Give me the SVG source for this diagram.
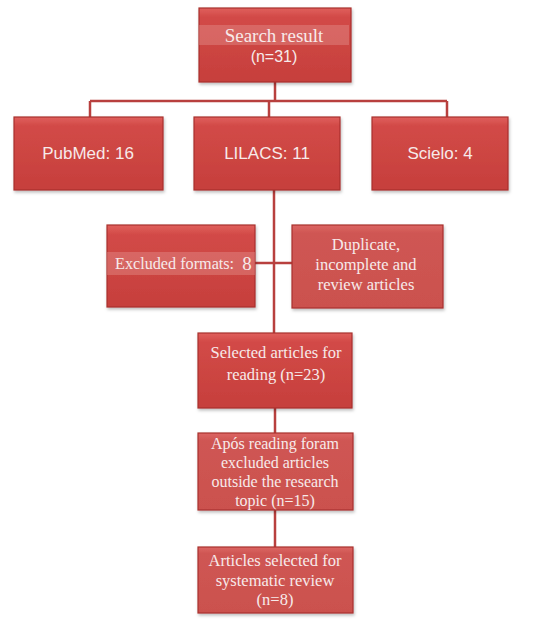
<svg xmlns="http://www.w3.org/2000/svg" width="540" height="626" viewBox="0 0 540 626">
<defs>
<linearGradient id="g" x1="0" y1="0" x2="0" y2="1">
<stop offset="0" stop-color="#e0605d"/>
<stop offset="0.12" stop-color="#d24a47"/>
<stop offset="1" stop-color="#c63f3c"/>
</linearGradient>
<linearGradient id="g2" x1="0" y1="0" x2="0" y2="1">
<stop offset="0" stop-color="#dc6663"/>
<stop offset="0.1" stop-color="#cf5653"/>
<stop offset="1" stop-color="#cb514e"/>
</linearGradient>
<filter id="sh" x="-5%" y="-5%" width="112%" height="120%">
<feDropShadow dx="1" dy="2" stdDeviation="1.5" flood-color="#000" flood-opacity="0.25"/>
</filter>
</defs>
<style>
.box{fill:url(#g);stroke:#a8302e;stroke-width:1.2;filter:url(#sh)}
.box2{fill:url(#g2);stroke:#a8302e;stroke-width:1.2;filter:url(#sh)}
.band{fill:#e7a09e;opacity:0.35}
.serif{font-family:"Liberation Serif","Times New Roman",serif;font-size:16.5px;fill:#f7eaea;text-anchor:middle}
.sans{font-family:"Liberation Sans",Arial,sans-serif;font-size:17px;fill:#f7eaea;text-anchor:middle}
.big{font-size:19px}
.mid{font-size:16.2px}
.sm{font-size:16px}
.start{text-anchor:start}
.conn{stroke:#b8403e;stroke-width:2.5;fill:none}
</style>
<rect width="540" height="626" fill="#ffffff"/>
<g id="connectors">
<path class="conn" d="M275 82 V100 M90 101 H447 M90 101 V117 M269 101 V117 M447 101 V117"/>
<path class="conn" d="M274 190 V333 M255 263 H292"/>
<path class="conn" d="M275 408 V433 M275 510 V547"/>
</g>
<g id="search">
<rect class="box" x="199" y="8" width="152" height="74"/>
<rect class="band" x="199" y="25" width="150" height="20"/>
<text class="serif big" x="274" y="42">Search result</text>
<text class="sans sm" x="274" y="62">(n=31)</text>
</g>
<g id="pubmed">
<rect class="box" x="14" y="117" width="149" height="73"/>
<text class="sans" x="88" y="159">PubMed: 16</text>
</g>
<g id="lilacs">
<rect class="box" x="194" y="117" width="146" height="73"/>
<text class="sans" x="267" y="159">LILACS: 11</text>
</g>
<g id="scielo">
<rect class="box" x="372" y="117" width="136" height="73"/>
<text class="sans" x="440" y="159">Scielo: 4</text>
</g>
<g id="excluded">
<rect class="box" x="107" y="225" width="148" height="82"/>
<rect class="band" x="107" y="252" width="148" height="23"/>
<text class="serif mid start" x="115" y="269">Excluded formats:</text>
<text class="serif big" x="247" y="270">8</text>
</g>
<g id="duplicate">
<rect class="box2" x="292" y="225" width="151" height="83"/>
<text class="serif" x="366" y="250">Duplicate,</text>
<text class="serif" x="366" y="270">incomplete and</text>
<text class="serif" x="366" y="290">review articles</text>
</g>
<g id="selected">
<rect class="box" x="198" y="333" width="154" height="75"/>
<text class="serif" x="276" y="358">Selected articles for</text>
<text class="serif" x="276" y="380">reading (n=23)</text>
</g>
<g id="apos">
<rect class="box2" x="198" y="433" width="155" height="77"/>
<text class="serif sm" x="275" y="449">Após reading foram</text>
<text class="serif sm" x="275" y="468">excluded articles</text>
<text class="serif sm" x="275" y="487">outside the research</text>
<text class="serif sm" x="275" y="506">topic (n=15)</text>
</g>
<g id="articles">
<rect class="box2" x="198" y="547" width="155" height="66"/>
<text class="serif" x="275" y="566">Articles selected for</text>
<text class="serif" x="275" y="586">systematic review</text>
<text class="serif" x="275" y="605">(n=8)</text>
</g>
</svg>
